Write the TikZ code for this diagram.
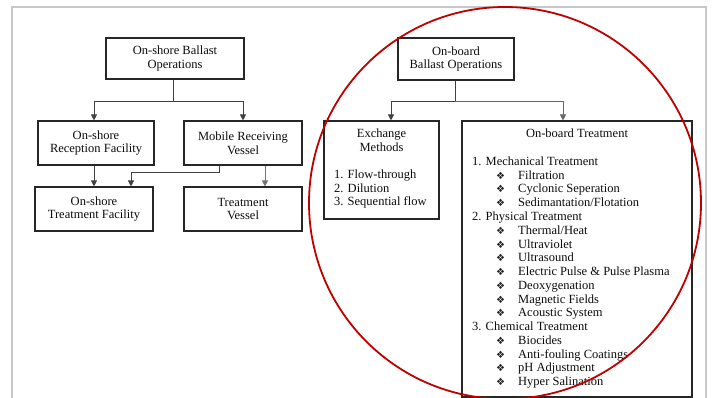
\documentclass[tikz,border=0pt]{standalone}
\usepackage{fontspec}
\setmainfont{Liberation Serif}
\newfontfamily\dingfont{DejaVu Sans}
\usetikzlibrary{arrows.meta,calc}
\tikzset{
  box/.style={draw=black!85, line width=1.1pt, fill=white, align=center, inner sep=0pt, text=black!95,
    font=\fontsize{12.5}{13.75}\selectfont},
  conn/.style={draw=black!75, line width=1pt},
  arr/.style={conn, -{Triangle[width=6pt,length=6pt]}},
  txt/.style={anchor=base west, inner sep=0pt, text=black!95, font=\fontsize{12.5}{13.75}\selectfont},
  ctxt/.style={anchor=base, inner sep=0pt, text=black!95, font=\fontsize{12.5}{13.75}\selectfont},
  bul/.style={anchor=base, inner sep=0pt, text=black!85, font=\dingfont\fontsize{10}{10}\selectfont},
  frame/.style={draw=black!22, line width=1.5pt},
  ring/.style={draw=red!75!black, line width=1.8pt}
}
\newcommand{\bl}{\symbol{"2756}}
\begin{document}
\begin{tikzpicture}[x=1pt,y=-1pt]
\useasboundingbox (0,0) rectangle (712,398);
\fill[white] (0,0) rectangle (712,398);
\draw[frame] (12,400) -- (12,7) -- (706,7) -- (706,400);

% left tree
\node[box, minimum width=138pt, minimum height=41pt] (osb) at (175,58.5) {On-shore Ballast\\Operations};
\node[box, minimum width=116pt, minimum height=44pt] (rec) at (96,143) {On-shore\\Reception Facility};
\node[box, minimum width=118pt, minimum height=44pt] (mob) at (243,143) {Mobile Receiving\\Vessel};
\node[box, minimum width=118pt, minimum height=44pt] (otf) at (94,209) {On-shore\\Treatment Facility};
\node[box, minimum width=118pt, minimum height=44pt] (tv) at (243,209) {Treatment\\Vessel};

\coordinate (j1) at ($(osb.south)+(-2,22)$);
\draw[conn] (osb.south) ++(-2,0) -- (j1);
\draw[arr] (j1) -| ($(rec.north)+(-2,0)$);
\draw[arr] (j1) -| (mob.north);
\draw[arr] ($(rec.south)+(-2,0)$) -- ($(otf.north)+(0,0)$);
\draw[arr] ($(mob.south)+(-24,0)$) -- ++(0,7) -| ($(otf.north)+(37,0)$);
\draw[arr, draw=black!55] ($(mob.south)+(22,0)$) -- ($(tv.north)+(22,0)$);

% right tree
\node[box, minimum width=116pt, minimum height=42pt] (obb) at (456,59) {On-board\\Ballast Operations};
\node[box, minimum width=115pt, minimum height=98pt] (exm) at (381.5,170) {};
\node[box, minimum width=230pt, minimum height=276pt] (obt) at (577,259) {};

\coordinate (j2) at ($(obb.south)+(-1,21)$);
\draw[conn] (obb.south) ++(-1,0) -- (j2);
\draw[arr] (j2) -| ($(exm.north)+(9.5,0)$);
\draw[arr, draw=black!60] (j2) -| ($(obt.north)+(-14,0)$);

% exchange methods text
\node[ctxt] (ex1) at (381.5,137.5) {Exchange};
\node[ctxt] (ex2) at (381.5,151.25) {Methods};
\node[txt] (e1) at (334,178.5) {1. Flow-through};
\node[txt] (e2) at (334,192.25) {2. Dilution};
\node[txt] (e3) at (334,206) {3. Sequential flow};

% on-board treatment text
\node[ctxt] (ot) at (577,137.5) {On-board Treatment};
\node[txt] (h1) at (472,165.5) {1. Mechanical Treatment};
\node[txt] (h2) at (472,220.5) {2. Physical Treatment};
\node[txt] (h3) at (472,330.5) {3. Chemical Treatment};
\foreach \i/\t in {1/{Filtration},2/{Cyclonic Seperation},3/{Sedimantation/Flotation},
  5/{Thermal/Heat},6/{Ultraviolet},7/{Ultrasound},8/{Electric Pulse \& Pulse Plasma},9/{Deoxygenation},10/{Magnetic Fields},11/{Acoustic System},
  13/{Biocides},14/{Anti-fouling Coatings},15/{pH Adjustment},16/{Hyper Salination}}{
  \node[bul] (b\i) at (500.5,165.5+13.75*\i) {\bl};
  \node[txt] (t\i) at (518,165.5+13.75*\i) {\t};
}

% red ring
\draw[ring] (505,203) circle[radius=196];
\end{tikzpicture}
\end{document}
